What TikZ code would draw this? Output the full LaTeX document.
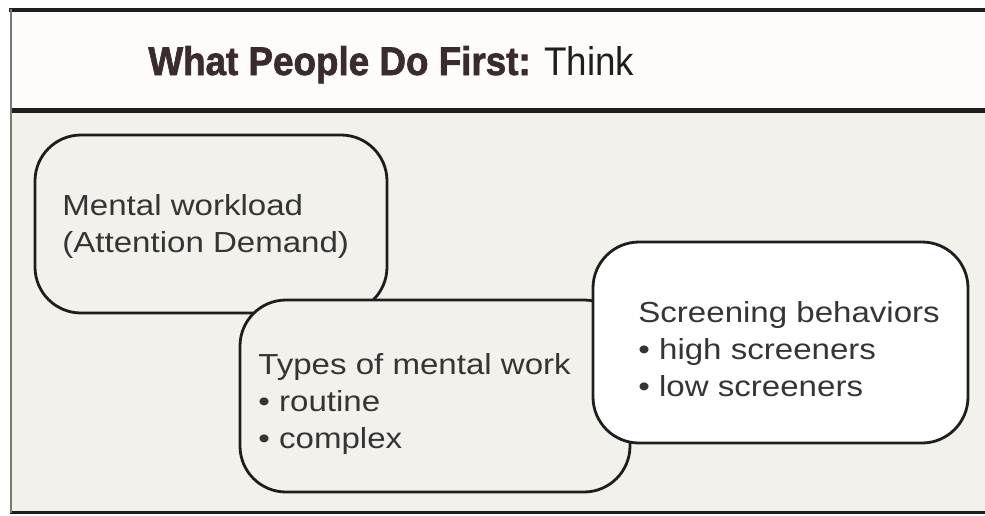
\documentclass[tikz,border=0pt]{standalone}
\usepackage{fontspec}
\setmainfont{Liberation Sans}
\newfontfamily\bodyfont[FakeStretch=1.14]{Liberation Sans}
\newfontfamily\headfont[FakeStretch=0.92,BoldFeatures={FakeBold=1.6}]{Liberation Sans}
\definecolor{panel}{HTML}{F3F1EC}
\definecolor{headpanel}{HTML}{FDFCF9}
\definecolor{ink}{HTML}{1E1E1E}
\definecolor{headink}{HTML}{3A2C2C}
\begin{document}
\begin{tikzpicture}
	[x=0.5pt,y=-0.5pt,
	box/.style={draw=ink,line width=1.4pt,rounded corners=23pt,fill=panel,inner sep=0pt},
	words/.style={anchor=north west,inner sep=0pt,align=left,text=ink!90,font=\bodyfont\fontsize{14.5pt}{18.5pt}\selectfont},
	rule/.style={draw=ink,line width=#1}]
	\useasboundingbox (0,0) rectangle (985,515);
	\fill[white] (0,0) rectangle (985,515);
	% frame
	\fill[headpanel] (11,11) rectangle (985,108);
	\fill[panel] (11,113) rectangle (985,511);
	\draw[rule=2pt] (9,9.5) -- (985,9.5);
	\draw[rule=2.5pt] (11,110.5) -- (985,110.5);
	\draw[rule=1.5pt] (10,512) -- (985,512);
	\draw[draw=ink!60,line width=1pt] (11,9) -- (11,513);
	% title
	\node[anchor=base west,inner sep=0pt,font=\headfont\fontsize{20pt}{24pt}\selectfont] (title) at (148,75)
		{\textcolor{headink}{\bfseries What People Do First:} \textcolor{ink}{Think}};
	% boxes
	\node[box,minimum width=176pt,minimum height=89pt] (workload) at (211,224) {};
	\node[box,minimum width=195pt,minimum height=96pt] (types) at (435,396) {};
	\node[box,fill=white,minimum width=187.5pt,minimum height=100.5pt] (screening) at (780.5,342.5) {};
	\node[words] (workloadtext) at (62,194) {Mental workload\\(Attention Demand)};
	\node[words] (typestext) at (258,353) {Types of mental work\\\textbullet\ routine\\\textbullet\ complex};
	\node[words] (screeningtext) at (638,301) {Screening behaviors\\\textbullet\ high screeners\\\textbullet\ low screeners};
\end{tikzpicture}
\end{document}
